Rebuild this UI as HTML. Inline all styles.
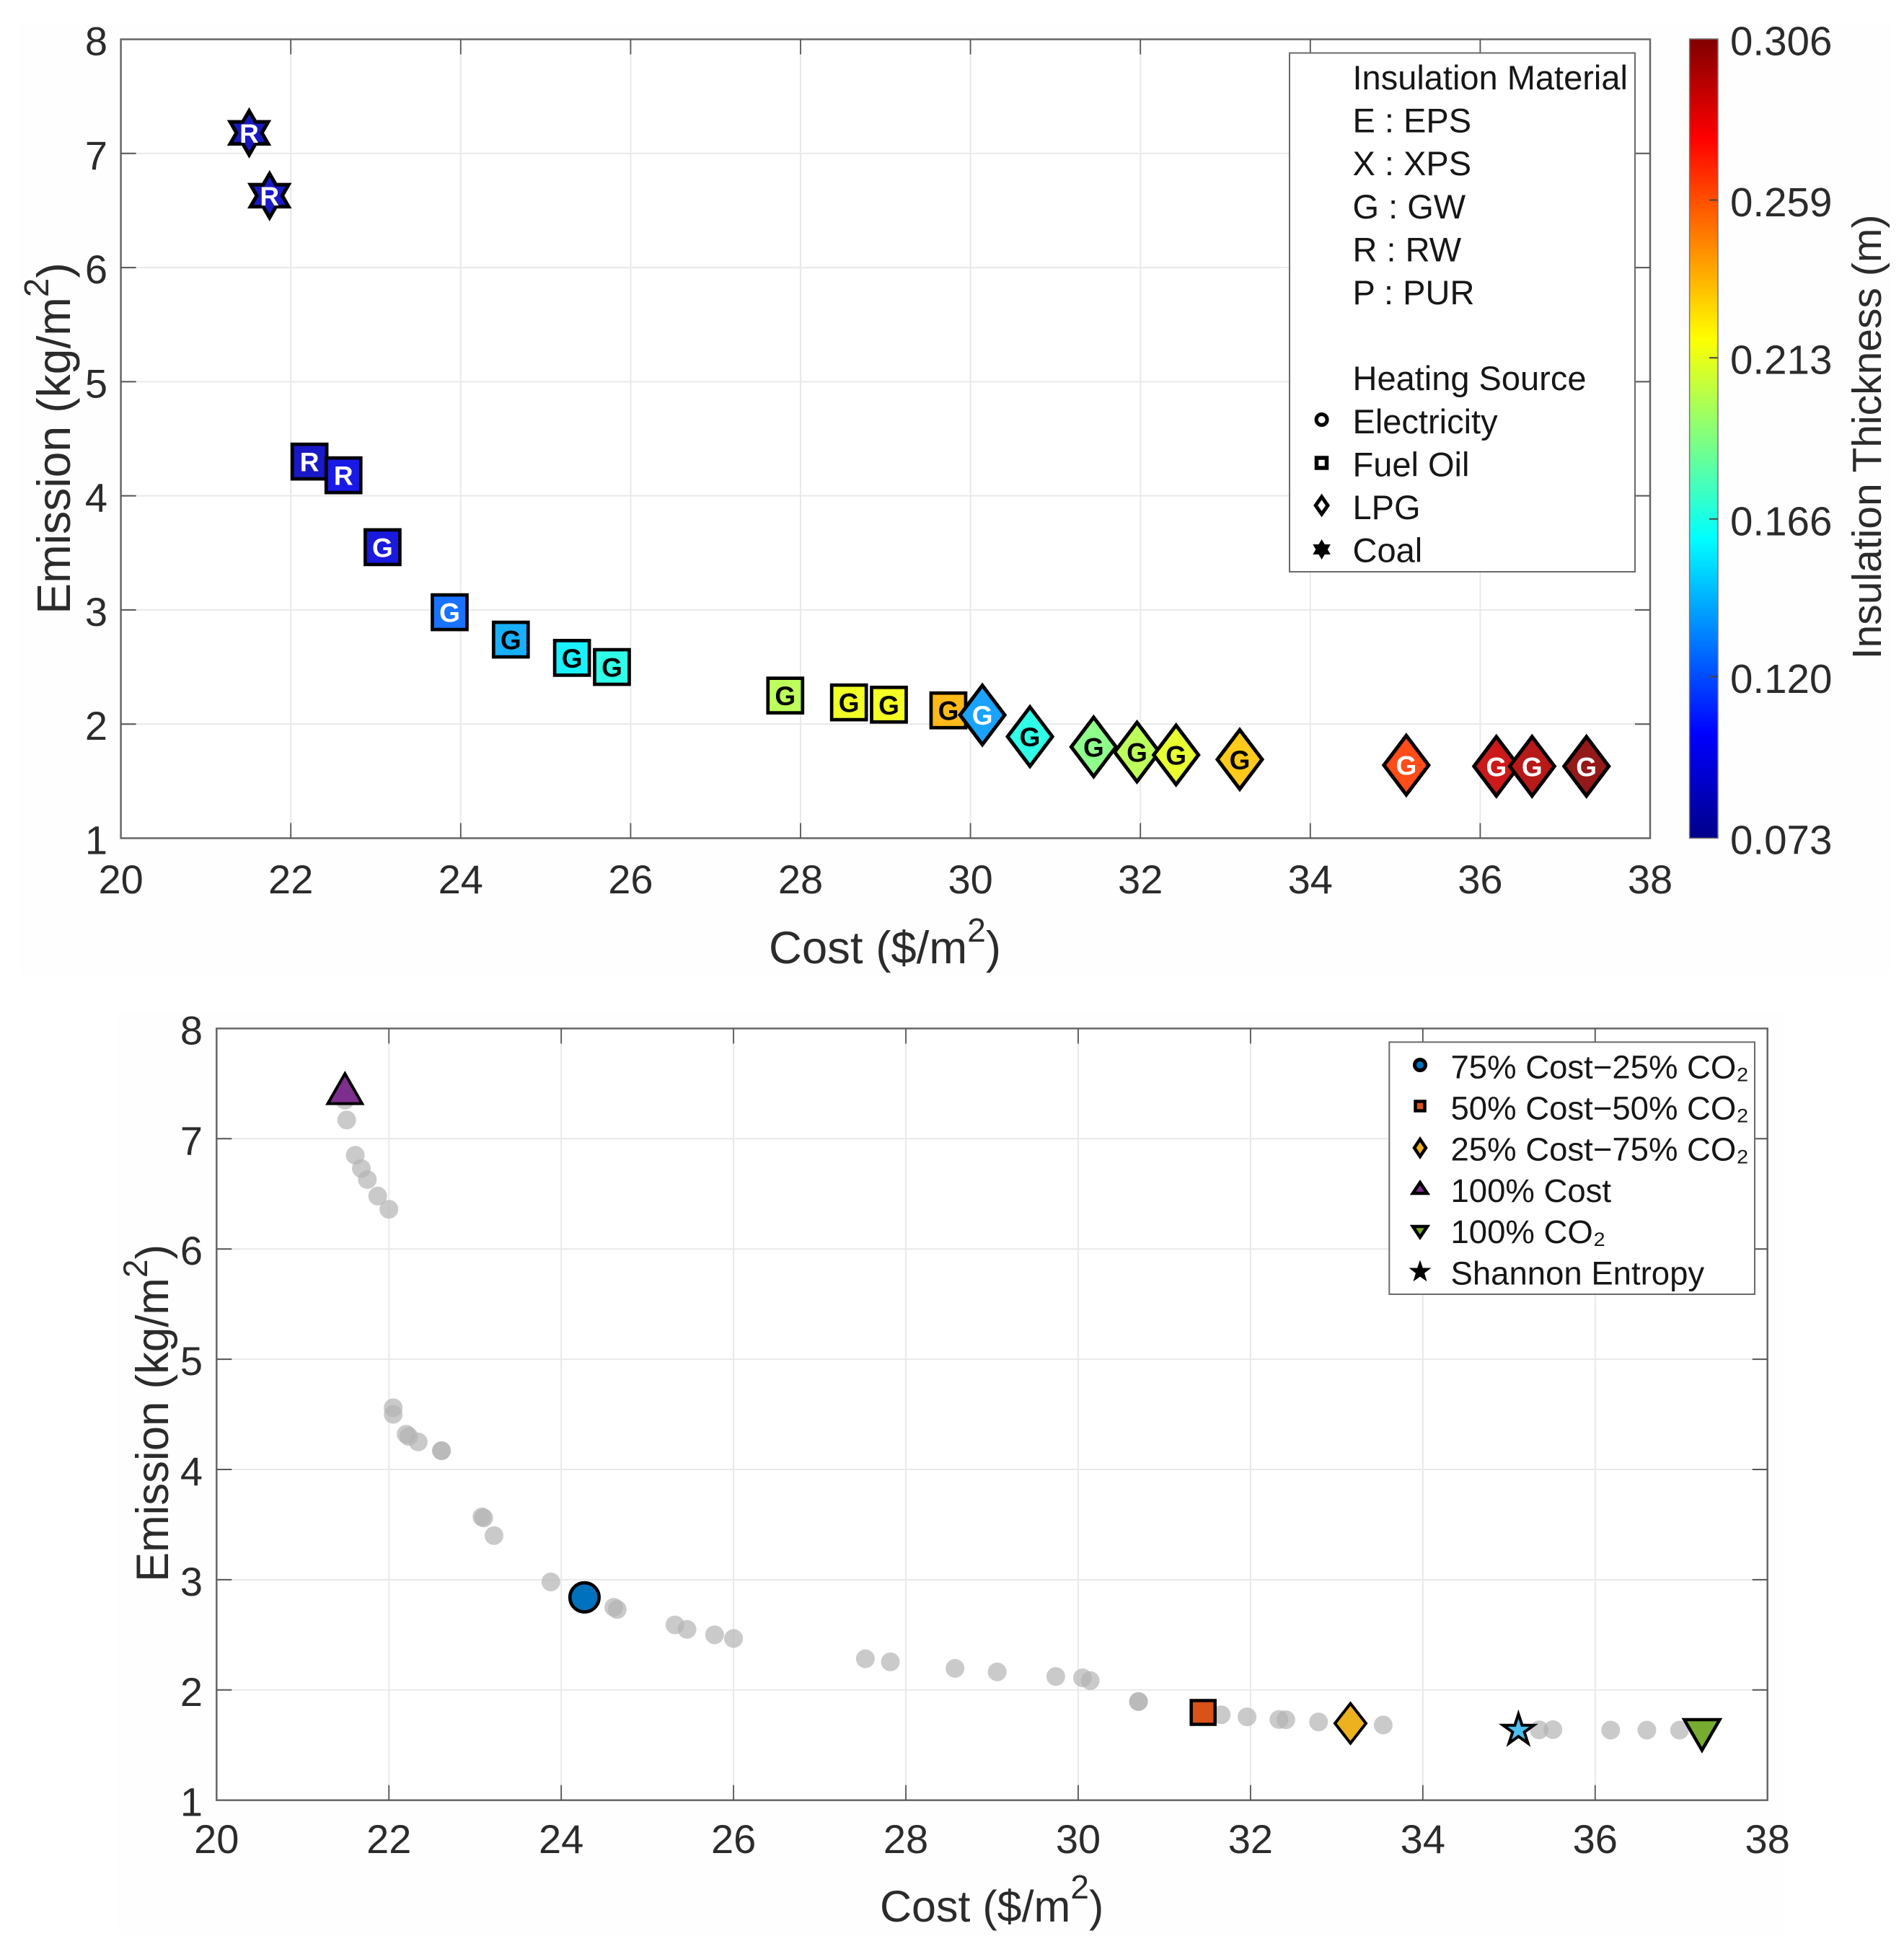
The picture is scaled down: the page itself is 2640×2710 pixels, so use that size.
<!DOCTYPE html>
<html lang="en">
<head>
<meta charset="utf-8">
<title>Cost and emission Pareto charts</title>
<style>
html,body{margin:0;padding:0;background:#fff;width:2640px;height:2710px;overflow:hidden}
svg{display:block;font-family:"Liberation Sans",sans-serif}
.tick{font-size:56px;fill:#2b2b2b}
.axis-label{fill:#2b2b2b}
.leg{font-size:47px;fill:#161616}
.leg2{font-size:45.5px;fill:#161616}
</style>
</head>
<body>
<svg id="figure" xmlns="http://www.w3.org/2000/svg" width="2640" height="2710" viewBox="0 0 2640 2710">
  <defs>
    <linearGradient id="jet" x1="0" y1="1" x2="0" y2="0">
      <stop offset="0" stop-color="#00008a"/>
      <stop offset="0.13" stop-color="#0000ff"/>
      <stop offset="0.375" stop-color="#00ffff"/>
      <stop offset="0.625" stop-color="#ffff00"/>
      <stop offset="0.875" stop-color="#ff0000"/>
      <stop offset="1" stop-color="#800000"/>
    </linearGradient>
  </defs>
  <rect x="0" y="0" width="2640" height="2710" fill="#ffffff"/>
  <rect x="26" y="31" width="2594" height="1320" fill="#fefefe"/>
  <rect x="164" y="1405" width="2310" height="1278" fill="#fefefe"/>

  <g id="top-chart">
    <rect x="167.6" y="54.5" width="2120.4" height="1108" fill="#ffffff"/>
    <g id="top-axes"></g>
    <g id="top-marks"></g>
    <text class="axis-label" font-size="63.5" x="1066" y="1336">Cost ($/m<tspan font-size="46" dy="-30">2</tspan><tspan dy="30">)</tspan></text>
    <text class="axis-label" font-size="65" transform="translate(97,608) rotate(-90) scale(0.99,1)" text-anchor="middle">Emission (kg/m<tspan font-size="48" dy="-30">2</tspan><tspan dy="30">)</tspan></text>

    <g id="top-legend">
      <rect x="1788" y="73.5" width="479" height="719.5" fill="#ffffff" stroke="#6a6a6a" stroke-width="2"/>
      <text class="leg" x="1875.5" y="124">Insulation Material</text>
      <text class="leg" x="1875.5" y="183.6">E : EPS</text>
      <text class="leg" x="1875.5" y="243.2">X : XPS</text>
      <text class="leg" x="1875.5" y="302.8">G : GW</text>
      <text class="leg" x="1875.5" y="362.4">R : RW</text>
      <text class="leg" x="1875.5" y="422">P : PUR</text>
      <text class="leg" x="1875.5" y="541.2">Heating Source</text>
      <text class="leg" x="1875.5" y="600.8">Electricity</text>
      <text class="leg" x="1875.5" y="660.4">Fuel Oil</text>
      <text class="leg" x="1875.5" y="720">LPG</text>
      <text class="leg" x="1875.5" y="779.6">Coal</text>
      <circle cx="1832.6" cy="582" r="7.5" fill="#fff" stroke="#000" stroke-width="5"/>
      <rect x="1825.5" y="635" width="14" height="14" fill="#fff" stroke="#000" stroke-width="5.5"/>
      <polygon points="1832.6,689 1841,701 1832.6,713 1824.2,701" fill="#fff" stroke="#000" stroke-width="5"/>
      <polygon points="1832.6,749 1836.5,755.5 1844,755.5 1840.2,762 1844,768.5 1836.5,768.5 1832.6,775 1828.7,768.5 1821.2,768.5 1825,762 1821.2,755.5 1828.7,755.5" fill="#000" stroke="#000" stroke-width="1"/>
    </g>

    <g id="colorbar">
      <rect x="2342.6" y="54" width="39.4" height="1108.5" fill="url(#jet)" stroke="#777" stroke-width="1.5"/>
      <text class="axis-label" font-size="57" transform="translate(2608,606) rotate(-90)" text-anchor="middle">Insulation Thickness (m)</text>
    </g>
  </g>

  <g id="bottom-chart">
    <rect x="300.3" y="1426.4" width="2150.4" height="1070.3" fill="#ffffff"/>
    <g id="bottom-axes"></g>
    <g id="bottom-dots"></g>
    <g id="bottom-marks"></g>
    <text class="axis-label" font-size="61" x="1220" y="2665">Cost ($/m<tspan font-size="46" dy="-32">2</tspan><tspan dy="32">)</tspan></text>
    <text class="axis-label" font-size="63" transform="translate(233,1960) rotate(-90) scale(0.98,1)" text-anchor="middle">Emission (kg/m<tspan font-size="47" dy="-29">2</tspan><tspan dy="29">)</tspan></text>

    <g id="bottom-legend">
      <rect x="1926.3" y="1445.3" width="506.7" height="349.7" fill="#ffffff" stroke="#6a6a6a" stroke-width="2"/>
      <text class="leg2" x="2011.5" y="1495.3">75% Cost−25% CO₂</text>
      <text class="leg2" x="2011.5" y="1552.5">50% Cost−50% CO₂</text>
      <text class="leg2" x="2011.5" y="1609.7">25% Cost−75% CO₂</text>
      <text class="leg2" x="2011.5" y="1666.9">100% Cost</text>
      <text class="leg2" x="2011.5" y="1724.1">100% CO₂</text>
      <text class="leg2" x="2011.5" y="1781.3">Shannon Entropy</text>
      <circle cx="1969" cy="1477" r="7.5" fill="#0072BD" stroke="#000" stroke-width="5"/>
      <rect x="1962.5" y="1527.5" width="13" height="13" fill="#D95319" stroke="#000" stroke-width="4.5"/>
      <polygon points="1969,1580 1977,1592 1969,1604 1961,1592" fill="#EDB120" stroke="#000" stroke-width="4.5"/>
      <polygon points="1969,1640 1979,1655 1959,1655" fill="#7E2F8E" stroke="#000" stroke-width="4.5"/>
      <polygon points="1959,1701 1979,1701 1969,1716" fill="#77AC30" stroke="#000" stroke-width="4.5"/>
      <polygon points="1969,1749 1972.5,1759 1983,1759 1974.5,1765.5 1977.6,1776 1969,1770 1960.4,1776 1963.5,1765.5 1955,1759 1965.5,1759" fill="#000" stroke="#000" stroke-width="1"/>
    </g>
  </g>
</svg>

<script>
var xTicks = [20, 22, 24, 26, 28, 30, 32, 34, 36, 38];
var yTicks = [1, 2, 3, 4, 5, 6, 7, 8];
var colorbarTicks = ['0.073', '0.120', '0.166', '0.213', '0.259', '0.306'];

var topCost = [21.51, 21.75, 22.22, 22.62, 23.08, 23.87, 24.59, 25.31, 25.78, 27.82, 28.57, 29.04, 29.74, 30.14, 30.70, 31.45, 31.96, 32.42, 33.17, 35.13, 36.19, 36.61, 37.25];
var topEmission = [7.18, 6.63, 4.30, 4.18, 3.55, 2.98, 2.74, 2.58, 2.50, 2.25, 2.19, 2.17, 2.12, 2.08, 1.89, 1.80, 1.755, 1.73, 1.69, 1.64, 1.63, 1.63, 1.63];
var topThickness = [0.086, 0.088, 0.088, 0.096, 0.094, 0.125, 0.140, 0.157, 0.166, 0.202, 0.215, 0.216, 0.236, 0.137, 0.166, 0.190, 0.202, 0.213, 0.232, 0.264, 0.290, 0.295, 0.304];
var topHeating = ['coal', 'coal', 'oil', 'oil', 'oil', 'oil', 'oil', 'oil', 'oil', 'oil', 'oil', 'oil', 'oil', 'lpg', 'lpg', 'lpg', 'lpg', 'lpg', 'lpg', 'lpg', 'lpg', 'lpg', 'lpg'];
var topMaterial = ['R', 'R', 'R', 'R', 'G', 'G', 'G', 'G', 'G', 'G', 'G', 'G', 'G', 'G', 'G', 'G', 'G', 'G', 'G', 'G', 'G', 'G', 'G'];

var dotCost = [21.49, 21.51, 21.61, 21.68, 21.75, 21.87, 22.00, 22.05, 22.05, 22.20, 22.23, 22.34, 22.61, 22.61, 23.08, 23.10, 23.22, 23.88, 24.61, 24.65, 25.32, 25.46, 25.78, 26.00, 27.53, 27.82, 28.57, 29.06, 29.74, 30.05, 30.14, 30.70, 30.70, 31.66, 31.96, 32.33, 32.41, 32.79, 33.54, 35.35, 35.51, 36.18, 36.60, 36.98];
var dotEmission = [7.35, 7.17, 6.85, 6.73, 6.63, 6.48, 6.36, 4.56, 4.50, 4.32, 4.30, 4.25, 4.17, 4.17, 3.57, 3.56, 3.40, 2.98, 2.75, 2.73, 2.59, 2.55, 2.50, 2.467, 2.283, 2.255, 2.196, 2.164, 2.122, 2.11, 2.085, 1.895, 1.895, 1.775, 1.756, 1.732, 1.73, 1.71, 1.682, 1.638, 1.64, 1.636, 1.636, 1.636];

var highlightNames = ['cost-75', 'cost-50', 'cost-25', 'cost-100', 'co2-100', 'shannon'];
var highlightCost = [24.27, 31.45, 33.16, 21.49, 37.24, 35.11];
var highlightEmission = [2.84, 1.796, 1.697, 7.44, 1.63, 1.635];

var SVGNS = 'http://www.w3.org/2000/svg';
function mk(tag, attrs, parent) {
  var node = document.createElementNS(SVGNS, tag);
  for (var k in attrs) { node.setAttribute(k, attrs[k]); }
  parent.appendChild(node);
  return node;
}

function scaleX(box, v) { return box.x0 + (v - 20) * (box.x1 - box.x0) / 18; }
function scaleY(box, v) { return box.y1 - (v - 1) * (box.y1 - box.y0) / 7; }
function scaleBar(v) { return 1162 - (v - 0.073) * 1108 / (0.306 - 0.073); }

function clamp01(v) { return Math.max(0, Math.min(1, v)); }
function jet(v) {
  var t = (v - 0.073) / (0.306 - 0.073);
  var r = clamp01(Math.min(4 * t - 1.5, -4 * t + 4.5));
  var g = clamp01(Math.min(4 * t - 0.5, -4 * t + 3.5));
  var b = clamp01(Math.min(4 * t + 0.5, -4 * t + 2.5));
  return 'rgb(' + Math.round(r * 255) + ',' + Math.round(g * 255) + ',' + Math.round(b * 255) + ')';
}

function pts(list) {
  return list.map(function (p) { return p[0].toFixed(1) + ',' + p[1].toFixed(1); }).join(' ');
}
function hexagram(cx, cy, R) {
  var out = [];
  for (var i = 0; i < 12; i++) {
    var a = -Math.PI / 2 + i * Math.PI / 6;
    var rad = i % 2 === 0 ? R : R / Math.sqrt(3);
    out.push([cx + rad * Math.cos(a), cy + rad * Math.sin(a)]);
  }
  return pts(out);
}
function pentagram(cx, cy, R) {
  var out = [];
  for (var i = 0; i < 10; i++) {
    var a = -Math.PI / 2 + i * Math.PI / 5;
    var rad = i % 2 === 0 ? R : R * 0.382;
    out.push([cx + rad * Math.cos(a), cy + rad * Math.sin(a)]);
  }
  return pts(out);
}
function diamond(cx, cy, hw, hh) {
  return pts([[cx, cy - hh], [cx + hw, cy], [cx, cy + hh], [cx - hw, cy]]);
}

function drawAxes(group, box, prefix, rightEdge, bottomBase) {
  var i, el, px;
  for (i = 1; i < xTicks.length - 1; i++) {
    px = scaleX(box, xTicks[i]);
    el = mk('line', {x1: px, x2: px, y1: box.y0, y2: box.y1, stroke: '#e9e9e9', 'stroke-width': 2}, group);
    
    
  }
  for (i = 1; i < yTicks.length - 1; i++) {
    px = scaleY(box, yTicks[i]);
    el = mk('line', {x1: box.x0, x2: box.x1, y1: px, y2: px, stroke: '#e9e9e9', 'stroke-width': 2}, group);
    
    
  }
  el = mk('rect', {x: box.x0, y: box.y0, width: box.x1 - box.x0, height: box.y1 - box.y0, fill: 'none', stroke: '#666', 'stroke-width': 2.5}, group);
  
  
  for (i = 0; i < xTicks.length; i++) {
    px = scaleX(box, xTicks[i]);
    if (i > 0 && i < xTicks.length - 1) {
      el = mk('line', {x1: px, x2: px, y1: box.y1, y2: box.y1 - 21, stroke: '#555', 'stroke-width': 1.8}, group);
      
      
      el = mk('line', {x1: px, x2: px, y1: box.y0, y2: box.y0 + 21, stroke: '#555', 'stroke-width': 1.8}, group);
      
      
    }
    el = mk('text', {x: px, y: bottomBase, 'text-anchor': 'middle', 'class': 'tick'}, group);
    
    
    el.textContent = String(xTicks[i]);
  }
  for (i = 0; i < yTicks.length; i++) {
    px = scaleY(box, yTicks[i]);
    if (i > 0 && i < yTicks.length - 1) {
      el = mk('line', {x1: box.x0, x2: box.x0 + 21, y1: px, y2: px, stroke: '#555', 'stroke-width': 2}, group);
      
      
      el = mk('line', {x1: box.x1, x2: box.x1 - 21, y1: px, y2: px, stroke: '#555', 'stroke-width': 2}, group);
      
      
    }
    el = mk('text', {x: rightEdge, y: px + 22, 'text-anchor': 'end', 'class': 'tick'}, group);
    
    
    el.textContent = String(yTicks[i]);
  }
}

var topBox = {x0: 167.6, x1: 2288, y0: 54.5, y1: 1162.5};
var bottomBox = {x0: 300.3, x1: 2450.7, y0: 1426.4, y1: 2496.7};

drawAxes(document.getElementById('top-axes'), topBox, 'top', 149, 1239);
drawAxes(document.getElementById('bottom-axes'), bottomBox, 'bottom', 281, 2570);

(function drawTopMarkers() {
  var group = document.getElementById('top-marks');
  for (var i = 0; i < topCost.length; i++) {
    var cx = scaleX(topBox, topCost[i]);
    var cy = scaleY(topBox, topEmission[i]);
    var color = jet(topThickness[i]);
    var shape;
    if (topHeating[i] === 'coal') {
      shape = mk('polygon', {points: hexagram(cx, cy, 30.5), fill: color, 'fill-opacity': 0.9, stroke: '#000', 'stroke-width': 5}, group);
    } else if (topHeating[i] === 'oil') {
      mk('rect', {x: cx - 24, y: cy - 24, width: 48, height: 48, fill: '#fff'}, group);
      shape = mk('rect', {x: cx - 24, y: cy - 24, width: 48, height: 48, fill: color, 'fill-opacity': 0.9, stroke: '#000', 'stroke-width': 4.7}, group);
    } else {
      mk('polygon', {points: diamond(cx, cy, 31, 41), fill: '#fff', stroke: 'none'}, group);
      shape = mk('polygon', {points: diamond(cx, cy, 31, 41), fill: color, 'fill-opacity': 0.9, stroke: '#000', 'stroke-width': 5}, group);
    }
    
    
    var thickness = topThickness[i];
    var letterColor = (thickness < 0.138 || thickness > 0.26) ? '#ffffff' : '#000000';
    var letter = mk('text', {x: cx, y: cy + 13.5, 'text-anchor': 'middle', 'font-size': 37, 'font-weight': 'bold', fill: letterColor}, group);
    
    
    letter.textContent = topMaterial[i];
  }
})();

(function drawColorbarTicks() {
  var group = document.getElementById('colorbar');
  for (var i = 0; i < colorbarTicks.length; i++) {
    var val = parseFloat(colorbarTicks[i]);
    var py = scaleBar(val);
    if (i > 0 && i < colorbarTicks.length - 1) {
      var tick = mk('line', {x1: 2370, x2: 2382, y1: py, y2: py, stroke: '#444', 'stroke-width': 2}, group);
      
      
    }
    var label = mk('text', {x: 2399, y: py + 22.5, 'class': 'tick', 'style': 'font-size:56.5px'}, group);
    
    
    label.textContent = colorbarTicks[i];
  }
})();

(function drawBottomDots() {
  var group = document.getElementById('bottom-dots');
  for (var i = 0; i < dotCost.length; i++) {
    var dot = mk('circle', {cx: scaleX(bottomBox, dotCost[i]), cy: scaleY(bottomBox, dotEmission[i]), r: 13, fill: '#b4b4b4', 'fill-opacity': 0.7}, group);
    
    
  }
})();

(function drawHighlights() {
  var group = document.getElementById('bottom-marks');
  for (var i = 0; i < highlightNames.length; i++) {
    var cx = scaleX(bottomBox, highlightCost[i]);
    var cy = scaleY(bottomBox, highlightEmission[i]);
    var name = highlightNames[i];
    var el;
    if (name === 'cost-75') {
      el = mk('circle', {cx: cx, cy: cy, r: 20.2, fill: '#0072BD', stroke: '#000', 'stroke-width': 4.6}, group);
    } else if (name === 'cost-50') {
      el = mk('rect', {x: cx - 16.5, y: cy - 16.5, width: 33, height: 33, fill: '#D95319', stroke: '#000', 'stroke-width': 4.5}, group);
    } else if (name === 'cost-25') {
      el = mk('polygon', {points: diamond(cx, cy, 21.5, 27.5), fill: '#EDB120', stroke: '#000', 'stroke-width': 4}, group);
    } else if (name === 'cost-100') {
      el = mk('polygon', {points: pts([[cx, cy - 23], [cx + 23.8, cy + 18.6], [cx - 23.8, cy + 18.6]]), fill: '#7E2F8E', stroke: '#000', 'stroke-width': 4}, group);
    } else if (name === 'co2-100') {
      el = mk('polygon', {points: pts([[cx - 24.5, cy - 15.4], [cx + 24.5, cy - 15.4], [cx, cy + 27]]), fill: '#77AC30', stroke: '#000', 'stroke-width': 4.5}, group);
    } else {
      el = mk('polygon', {points: pentagram(cx, cy, 22.4), fill: '#4DBEEE', stroke: '#000', 'stroke-width': 4}, group);
    }
    
    
  }
})();
</script>
</body>
</html>
